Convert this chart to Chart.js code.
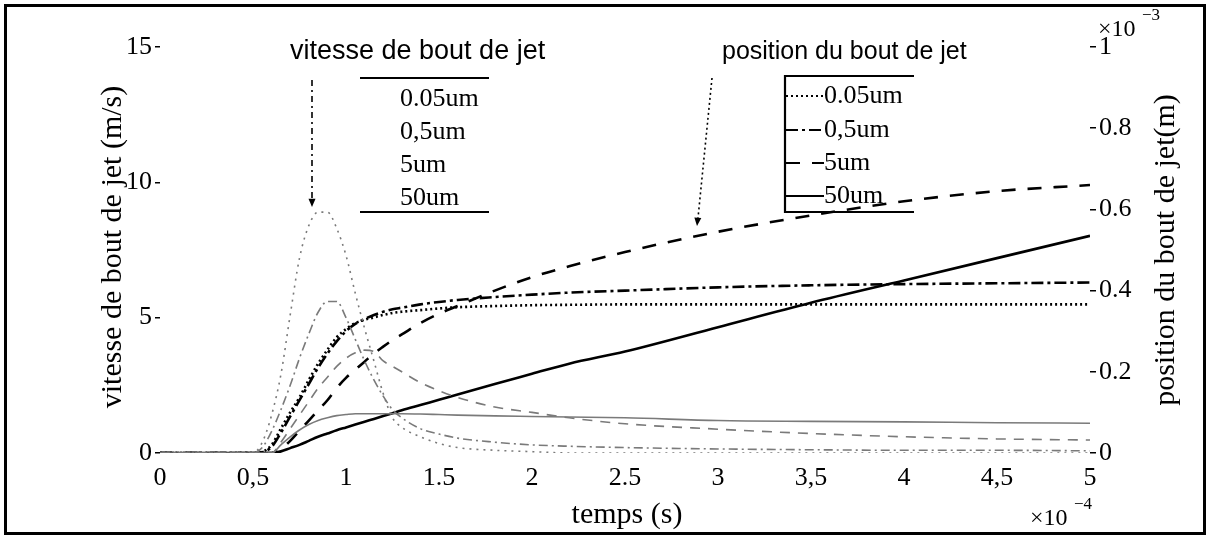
<!DOCTYPE html>
<html>
<head>
<meta charset="utf-8">
<script src="https://cdn.jsdelivr.net/npm/chart.js@4.4.1/dist/chart.umd.min.js"></script>
<style>
  html, body { margin: 0; padding: 0; background: #fff; }
  #jet { display: block; }
</style>
</head>
<body>
<canvas id="jet" width="1208" height="538"></canvas>
<script>
// temps (x 1e-4 s)
const temps = [0, 0.5, 0.55, 0.6, 0.65, 0.7, 0.75, 0.8, 0.85, 0.9, 0.95, 1.0, 1.05, 1.1, 1.15, 1.2, 1.25, 1.3, 1.4, 1.5, 1.6, 1.8, 2.0, 2.2, 2.5, 3.0, 3.5, 4.0, 4.5, 5.0]

// vitesse de bout de jet (m/s)
const vitesse005 = [0, 0, 0.4, 1.4, 2.9, 5.1, 7.2, 8.4, 8.9, 8.9, 8.3, 7.3, 5.9, 4.6, 3.4, 2.2, 1.3, 0.95, 0.6, 0.35, 0.2, 0.1, 0.05, 0, 0, 0, 0, 0, 0, 0]
const vitesse05 = [0, 0, 0.2, 0.8, 1.6, 2.5, 3.5, 4.4, 5.2, 5.6, 5.6, 5.0, 4.2, 3.4, 2.7, 2.1, 1.6, 1.3, 0.9, 0.7, 0.55, 0.4, 0.3, 0.25, 0.2, 0.15, 0.12, 0.1, 0.1, 0.08]
const vitesse5 = [0, 0, 0, 0, 0.4, 0.9, 1.4, 1.9, 2.4, 2.8, 3.2, 3.5, 3.7, 3.8, 3.75, 3.4, 3.2, 3.0, 2.6, 2.3, 2.05, 1.7, 1.5, 1.3, 1.08, 0.88, 0.72, 0.6, 0.52, 0.48]
const vitesse50 = [0, 0, 0, 0, 0.3, 0.6, 0.85, 1.05, 1.2, 1.3, 1.38, 1.42, 1.45, 1.45, 1.45, 1.45, 1.45, 1.45, 1.44, 1.42, 1.4, 1.37, 1.35, 1.33, 1.3, 1.2, 1.17, 1.15, 1.12, 1.1]

// position du bout de jet (x 1e-3 m)
const position005 = [0, 0, 0.003, 0.02, 0.06, 0.1, 0.137, 0.18, 0.22, 0.254, 0.285, 0.305, 0.32, 0.328, 0.334, 0.34, 0.345, 0.348, 0.352, 0.356, 0.359, 0.362, 0.364, 0.365, 0.366, 0.366, 0.366, 0.366, 0.366, 0.366]
const position05 = [0, 0, 0.002, 0.015, 0.05, 0.09, 0.13, 0.17, 0.21, 0.245, 0.275, 0.3, 0.318, 0.33, 0.34, 0.348, 0.354, 0.358, 0.366, 0.372, 0.377, 0.384, 0.39, 0.395, 0.4, 0.408, 0.413, 0.416, 0.418, 0.42]
const position5 = [0, 0, 0, 0, 0.01, 0.03, 0.055, 0.08, 0.105, 0.13, 0.16, 0.185, 0.205, 0.225, 0.245, 0.262, 0.278, 0.292, 0.32, 0.343, 0.362, 0.4, 0.433, 0.46, 0.495, 0.545, 0.585, 0.62, 0.645, 0.66]
const position50 = [0, 0, 0, 0, 0.004, 0.012, 0.02, 0.03, 0.04, 0.048, 0.056, 0.063, 0.07, 0.077, 0.084, 0.091, 0.098, 0.105, 0.118, 0.131, 0.144, 0.17, 0.195, 0.22, 0.25, 0.31, 0.37, 0.425, 0.48, 0.535]

const tailles = ["0.05um", "0,5um", "5um", "50um"]

const xTicks = [0, 0.5, 1, 1.5, 2, 2.5, 3, 3.5, 4, 4.5, 5]
const xTickLabels = ["0", "0,5", "1", "1.5", "2", "2.5", "3", "3,5", "4", "4,5", "5"]
const vTicks = [0, 5, 10, 15]
const pTicks = [0, 0.2, 0.4, 0.6, 0.8, 1]
const pTickLabels = ["0", "0.2", "0.4", "0.6", "0.8", "1"]

const SERIF = "'Liberation Serif', 'DejaVu Serif', serif"
const SANS = "'Liberation Sans', Arial, sans-serif"

const dashes = [[2, 5], [9, 4, 2, 4], [10, 8], []]
const posDashes = [[2, 3], [12, 4, 3, 4], [14, 12], []]

const pts = (arr) => temps.map((t, i) => ({ x: t, y: arr[i] }))

const vitesses = [vitesse005, vitesse05, vitesse5, vitesse50]
const positions = [position005, position05, position5, position50]

const datasets = []
vitesses.forEach((arr, i) => {
	datasets.push({
		label: "vitesse " + tailles[i],
		data: pts(arr),
		yAxisID: "yV",
		borderColor: "#7a7a7a",
		borderWidth: 1.6,
		borderDash: dashes[i],
		pointRadius: 0,
		fill: false,
		cubicInterpolationMode: "monotone",
	})
})
positions.forEach((arr, i) => {
	datasets.push({
		label: "position " + tailles[i],
		data: pts(arr),
		yAxisID: "yP",
		borderColor: "#000",
		borderWidth: 2.6,
		borderDash: posDashes[i],
		pointRadius: 0,
		fill: false,
		cubicInterpolationMode: "monotone",
	})
})

const arrowHead = (ctx, x1, y1, x2, y2, size) => {
	const a = Math.atan2(y2 - y1, x2 - x1)
	ctx.setLineDash([])
	ctx.beginPath()
	ctx.moveTo(x2, y2)
	ctx.lineTo(x2 - size * Math.cos(a - 0.4), y2 - size * Math.sin(a - 0.4))
	ctx.lineTo(x2 - size * Math.cos(a + 0.4), y2 - size * Math.sin(a + 0.4))
	ctx.closePath()
	ctx.fill()
}

const decor = {
	id: "decor",
	afterDraw(chart) {
		const ctx = chart.ctx
		ctx.save()
		ctx.fillStyle = "#000"
		ctx.strokeStyle = "#000"

		// cadre
		ctx.lineWidth = 3
		ctx.strokeRect(5.5, 5.5, 1199, 528)

		// titres des axes
		ctx.font = "30px " + SERIF
		ctx.textAlign = "center"
		ctx.textBaseline = "middle"
		ctx.fillText("temps (s)", 627, 515)
		ctx.save()
		ctx.translate(113, 247)
		ctx.rotate(-Math.PI / 2)
		ctx.fillText("vitesse de bout de jet (m/s)", 0, 0)
		ctx.restore()
		ctx.save()
		ctx.translate(1166, 250)
		ctx.rotate(-Math.PI / 2)
		ctx.fillText("position du bout de jet(m)", 0, 0)
		ctx.restore()

		// exposants
		ctx.textAlign = "left"
		ctx.font = "24px " + SERIF
		ctx.fillText("\u00d710", 1030, 519)
		ctx.fillText("\u00d710", 1098, 30)
		ctx.font = "17px " + SERIF
		ctx.fillText("\u22124", 1074, 505)
		ctx.fillText("\u22123", 1142, 16)

		// annotations
		ctx.font = "27px " + SANS
		ctx.fillText("vitesse de bout de jet", 290, 52)
		ctx.font = "25px " + SANS
		ctx.fillText("position du bout de jet", 722, 52)

		// fleche vitesse (tiret-point)
		ctx.lineWidth = 1.6
		ctx.setLineDash([6, 4, 2, 4])
		ctx.beginPath()
		ctx.moveTo(312, 80)
		ctx.lineTo(312, 200)
		ctx.stroke()
		arrowHead(ctx, 312, 80, 312, 207, 9)

		// fleche position (pointillee)
		ctx.setLineDash([2, 3])
		ctx.beginPath()
		ctx.moveTo(712, 78)
		ctx.lineTo(698, 218)
		ctx.stroke()
		arrowHead(ctx, 712, 78, 697, 226, 9)

		// legende vitesse
		ctx.setLineDash([])
		ctx.lineWidth = 2
		ctx.beginPath()
		ctx.moveTo(360, 78)
		ctx.lineTo(489, 78)
		ctx.moveTo(360, 212)
		ctx.lineTo(489, 212)
		ctx.stroke()
		ctx.font = "26px " + SERIF
		const rowsV = [99, 132, 165, 198]
		tailles.forEach((t, i) => ctx.fillText(t, 400, rowsV[i]))

		// legende position
		ctx.lineWidth = 2.2
		ctx.beginPath()
		ctx.moveTo(914, 76)
		ctx.lineTo(785, 76)
		ctx.lineTo(785, 212)
		ctx.lineTo(914, 212)
		ctx.stroke()
		const rowsP = [96, 130, 163, 196]
		tailles.forEach((t, i) => {
			ctx.setLineDash(posDashes[i])
			ctx.beginPath()
			ctx.moveTo(786, rowsP[i])
			ctx.lineTo(824, rowsP[i])
			ctx.stroke()
			ctx.setLineDash([])
			ctx.fillText(t, 824, rowsP[i])
		})

		ctx.restore()
	},
}

const tickFont = { family: SERIF, size: 26 }

new Chart(document.getElementById("jet").getContext("2d"), {
	type: "line",
	data: { datasets },
	options: {
		responsive: false,
		animation: false,
		devicePixelRatio: 1,
		layout: { padding: { top: 47, left: 0, right: 0, bottom: 0 } },
		plugins: { legend: { display: false }, tooltip: { enabled: false } },
		scales: {
			x: {
				type: "linear",
				min: 0,
				max: 5,
				grid: { display: false },
				border: { display: false },
				afterBuildTicks: (s) => { s.ticks = xTicks.map((v) => ({ value: v })) },
				afterFit: (s) => { s.height = 85 },
				ticks: {
					color: "#000",
					font: tickFont,
					padding: 2,
					maxRotation: 0,
					autoSkip: false,
					callback: (v, i) => xTickLabels[i],
				},
			},
			yV: {
				type: "linear",
				position: "left",
				min: 0,
				max: 15,
				grid: { drawOnChartArea: false, drawTicks: true, tickLength: 5, color: "#000", lineWidth: 1.5 },
				border: { display: false },
				afterBuildTicks: (s) => { s.ticks = vTicks.map((v) => ({ value: v })) },
				afterFit: (s) => { s.width = 160 },
				ticks: { color: "#000", font: tickFont, padding: 3, callback: (v) => String(v) },
			},
			yP: {
				type: "linear",
				position: "right",
				min: 0,
				max: 1,
				grid: { drawOnChartArea: false, drawTicks: true, tickLength: 6, color: "#000", lineWidth: 1.5 },
				border: { display: false },
				afterBuildTicks: (s) => { s.ticks = pTicks.map((v) => ({ value: v })) },
				afterFit: (s) => { s.width = 118 },
				ticks: { color: "#000", font: tickFont, padding: 3, callback: (v, i) => pTickLabels[i] },
			},
		},
	},
	plugins: [decor],
})
</script>
</body>
</html>
